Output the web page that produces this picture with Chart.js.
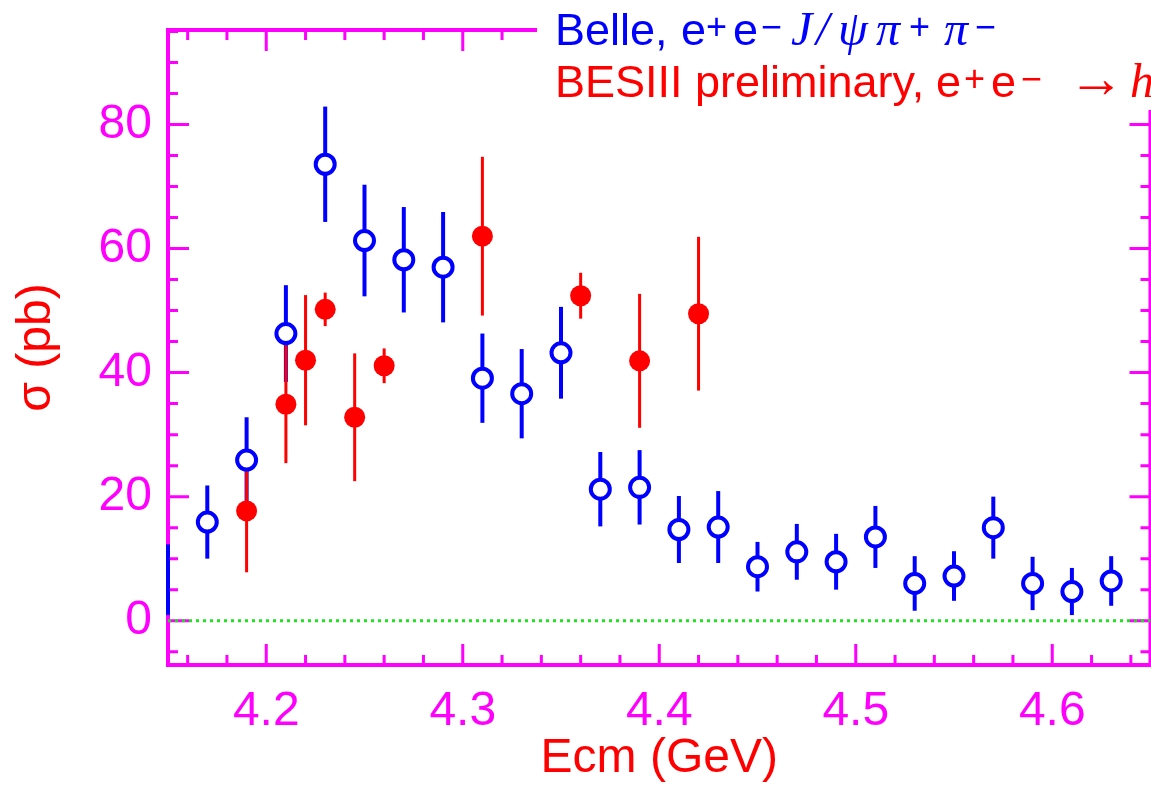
<!DOCTYPE html>
<html><head><meta charset="utf-8">
<script src="https://cdn.jsdelivr.net/npm/chart.js@4/dist/chart.umd.min.js"></script>
<style>
html,body{margin:0;padding:0;background:#fff;overflow:hidden;width:1151px;height:788px}
#wrap{position:relative;width:1164px;height:788px}
canvas{display:block}
</style>
</head><body><div id="wrap"><canvas id="c" width="1164" height="788"></canvas></div>
<script>
// ---- data ----
const belleX   = [4.15, 4.17, 4.19, 4.21, 4.23, 4.25, 4.27, 4.29, 4.31, 4.33, 4.35, 4.37, 4.39, 4.41, 4.43, 4.45, 4.47, 4.49, 4.51, 4.53, 4.55, 4.57, 4.59, 4.61, 4.63];
const belleY   = [6.6, 15.9, 25.9, 46.3, 73.6, 61.3, 58.2, 57.0, 39.1, 36.6, 43.2, 21.2, 21.5, 14.7, 15.1, 8.7, 11.1, 9.5, 13.5, 6.0, 7.2, 15.0, 6.0, 4.7, 6.4];
const belleErr = [5.7, 5.9, 6.9, 7.8, 9.3, 9.0, 8.5, 8.9, 7.2, 7.2, 7.4, 6.0, 6.0, 5.4, 5.8, 4.0, 4.5, 4.5, 5.0, 4.4, 4.0, 5.0, 4.3, 3.8, 4.0];
const besX     = [4.19, 4.21, 4.22, 4.23, 4.245, 4.26, 4.31, 4.36, 4.39, 4.42];
const besY     = [17.7, 34.9, 42.0, 50.2, 32.8, 41.1, 62.0, 52.4, 41.9, 49.5];
const besErr   = [9.9, 9.5, 10.5, 2.7, 10.3, 2.8, 12.8, 3.7, 10.8, 12.4];
const xTickLabels = [4.2, 4.3, 4.4, 4.5, 4.6];
const yTickLabels = [0, 20, 40, 60, 80];
const zeroLineX = [4.15, 4.65];
const zeroLineY = [0, 0];

const X_MIN = 4.15, X_MAX = 4.65, Y_MIN = -7.15, Y_MAX = 95.25;
const MAGENTA = '#ff00ff', BLUE = '#0000ff', RED = '#ff0000', GREEN = '#22e022';
const SANS = '"Liberation Sans", Arial, Helvetica, sans-serif';
const SERIF = '"Liberation Serif", "DejaVu Serif", serif';

const belleData = belleX.map((x, i) => ({x, y: belleY[i], e: belleErr[i]}));
const besData = besX.map((x, i) => ({x, y: besY[i], e: besErr[i]}));
const zeroData = zeroLineX.map((x, i) => ({x, y: zeroLineY[i]}));

const noPad = s => { s.paddingTop = 0; s.paddingBottom = 0; s.paddingLeft = 0; s.paddingRight = 0; };

const framePlugin = {
  id: 'framePlugin',
  beforeDatasetsDraw(chart) {
    const {ctx, chartArea: a, scales: {x, y}} = chart;
    ctx.save();
    ctx.strokeStyle = MAGENTA;
    ctx.lineCap = 'butt';
    ctx.lineWidth = 3;
    for (let k = Math.ceil(X_MIN * 50 - 1e-6); k <= Math.floor(X_MAX * 50 + 1e-6); k++) {
      const v = k / 50;
      const px = x.getPixelForValue(v);
      if (px <= a.left + 1 || px >= a.right - 1) continue;
      const major = (k % 5) === 0;
      const len = major ? 21 : 10;
      ctx.beginPath();
      ctx.moveTo(px, a.bottom); ctx.lineTo(px, a.bottom - len);
      ctx.moveTo(px, a.top); ctx.lineTo(px, a.top + len);
      ctx.stroke();
    }
    for (let v = Math.ceil(Y_MIN / 5) * 5; v <= Y_MAX; v += 5) {
      const py = y.getPixelForValue(v);
      if (py <= a.top + 1 || py >= a.bottom - 1) continue;
      const major = (v % 20) === 0;
      const len = major ? 21 : 10;
      ctx.beginPath();
      ctx.moveTo(a.left, py); ctx.lineTo(a.left + len, py);
      ctx.moveTo(a.right, py); ctx.lineTo(a.right - len, py);
      ctx.stroke();
    }
    ctx.lineWidth = 4;
    ctx.strokeRect(a.left, a.top, a.right - a.left, a.bottom - a.top);
    const bars = (data, color, w) => {
      ctx.strokeStyle = color; ctx.lineWidth = w;
      data.forEach(d => {
        const px = x.getPixelForValue(d.x);
        ctx.beginPath();
        ctx.moveTo(px, y.getPixelForValue(d.y - d.e));
        ctx.lineTo(px, y.getPixelForValue(d.y + d.e));
        ctx.stroke();
      });
    };
    bars(belleData, BLUE, 4);
    bars(besData, RED, 3);
    ctx.restore();
  },
  afterDraw(chart) {
    const {ctx} = chart;
    ctx.save();
    ctx.fillStyle = '#fff';
    ctx.fillRect(537, 0, 700, 110);
    ctx.textBaseline = 'alphabetic';
    ctx.textAlign = 'left';
    const put = (segs, base, color) => {
      ctx.fillStyle = color;
      segs.forEach(s => {
        let f = s.f;
        if (s.w) {
          ctx.font = '48px ' + SERIF;
          const size = 48 * s.w / ctx.measureText(s.t).width;
          f = size.toFixed(1) + 'px ' + SERIF;
        }
        ctx.font = f;
        ctx.fillText(s.t, s.x, base - (s.dy || 0));
      });
    };
    const main = '45px ' + SANS;
    const sup = '36px ' + SANS;
    const it = 'italic 48px ' + SERIF;
    put([
      {t: 'Belle,', f: main, x: 555},
      {t: 'e', f: main, x: 681},
      {t: '+', f: sup, x: 706, dy: 6},
      {t: 'e', f: main, x: 733},
      {t: '\u2212', f: sup, x: 761, dy: 6},
      {t: 'J', f: it, x: 791},
      {t: '/', f: it, x: 816},
      {t: '\u03C8', f: it, x: 838},
      {t: '\u03C0', f: it, x: 876},
      {t: '+', f: sup, x: 909, dy: 6},
      {t: '\u03C0', f: it, x: 944},
      {t: '\u2212', f: sup, x: 975, dy: 6}
    ], 45, BLUE);
    put([
      {t: 'BESIII preliminary,', f: main, x: 555},
      {t: 'e', f: main, x: 936},
      {t: '+', f: sup, x: 964, dy: 6},
      {t: 'e', f: main, x: 991},
      {t: '\u2212', f: sup, x: 1021, dy: 6},
      {t: '\u2192', w: 56, x: 1068, dy: 0},
      {t: 'h', f: it, x: 1130}
    ], 97, RED);
    ctx.restore();
  }
};

new Chart(document.getElementById('c'), {
  type: 'scatter',
  data: {
    datasets: [
      {
        label: 'BESIII preliminary',
        data: besData,
        order: 1,
        pointStyle: 'circle',
        pointRadius: 10.5,
        pointBackgroundColor: RED,
        pointBorderColor: RED,
        pointBorderWidth: 0,
        showLine: false
      },
      {
        label: 'Belle',
        data: belleData,
        order: 2,
        pointStyle: 'circle',
        pointRadius: c => (c.raw && c.raw.x <= X_MIN) ? 0 : 9.5,
        pointBackgroundColor: '#fff',
        pointBorderColor: BLUE,
        pointBorderWidth: 4,
        showLine: false
      },
      {
        label: 'zero',
        data: zeroData,
        order: 3,
        showLine: true,
        pointRadius: 0,
        borderColor: GREEN,
        borderWidth: 3,
        borderDash: [3, 4],
        fill: false
      }
    ]
  },
  options: {
    responsive: false,
    maintainAspectRatio: false,
    animation: false,
    devicePixelRatio: 1,
    events: [],
    layout: {padding: {top: 30, right: 4.5, left: 0, bottom: 0}},
    plugins: {legend: {display: false}, tooltip: {enabled: false}},
    scales: {
      x: {
        type: 'linear', min: X_MIN, max: X_MAX,
        afterBuildTicks: s => { s.ticks = xTickLabels.map(v => ({value: v})); },
        afterFit: s => { s.height = 123; noPad(s); },
        grid: {display: false, drawTicks: false},
        border: {display: false},
        ticks: {color: MAGENTA, font: {family: SANS, size: 48}, padding: 18, maxRotation: 0, autoSkip: false,
                callback: v => String(v)},
        title: {display: true, text: 'Ecm (GeV)', color: RED, font: {family: SANS, size: 48}, padding: {top: 0, bottom: 0}}
      },
      y: {
        type: 'linear', min: Y_MIN, max: Y_MAX,
        afterBuildTicks: s => { s.ticks = yTickLabels.map(v => ({value: v})); },
        afterFit: s => { s.width = 168; noPad(s); },
        grid: {display: false, drawTicks: false},
        border: {display: false},
        ticks: {color: MAGENTA, font: {family: SANS, size: 48}, padding: 16, autoSkip: false,
                callback: v => String(v)},
        title: {display: true, text: '\u03C3 (pb)', color: RED, font: {family: SANS, size: 48}, padding: {top: 8, bottom: 0}}
      }
    }
  },
  plugins: [framePlugin]
});
</script>
</body></html>
